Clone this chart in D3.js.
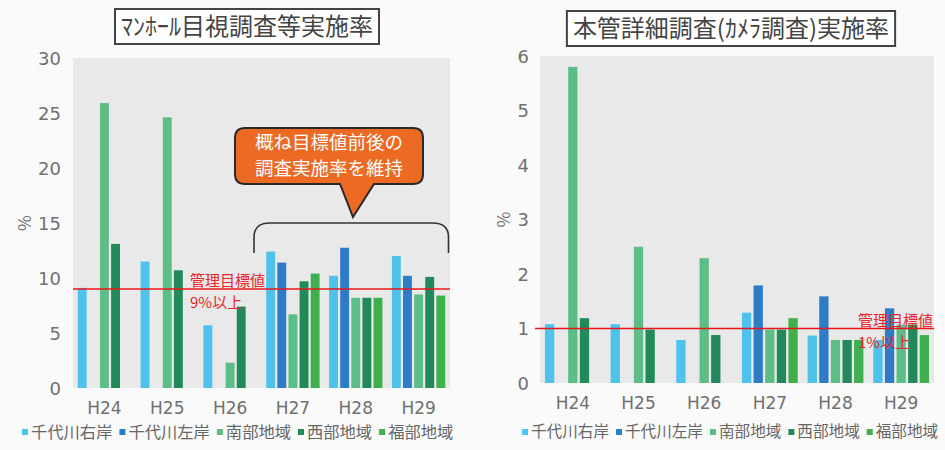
<!DOCTYPE html>
<html><head><meta charset="utf-8">
<script src="https://cdn.jsdelivr.net/npm/d3@7"></script>
<style>
html,body{margin:0;padding:0;background:#fafafa;}
svg{display:block;font-family:"Noto Sans CJK JP","Noto Sans",sans-serif;}
</style></head>
<body><svg id="c" width="945" height="450"></svg>
<script>
const years = ["H24","H25","H26","H27","H28","H29"];
const seriesNames = ["千代川右岸","千代川左岸","南部地域","西部地域","福部地域"];
const seriesColors = ["#4fc2ec","#2f7cc6","#5dbd86","#21895a","#3fb04d"];
// マンホール目視調査等実施率 (%)
const leftUgan   = [9.1, 11.5, 5.7, 12.4, 10.2, 12.0];
const leftSagan  = [0, 0, 0, 11.4, 12.75, 10.2];
const leftNanbu  = [25.9, 24.6, 2.3, 6.7, 8.2, 8.5];
const leftSeibu  = [13.1, 10.7, 7.4, 9.7, 8.2, 10.1];
const leftFukube = [0, 0, 0, 10.4, 8.2, 8.4];
// 本管詳細調査(カメラ調査)実施率 (%)
const rightUgan   = [1.08, 1.08, 0.79, 1.29, 0.87, 0.79];
const rightSagan  = [0, 0, 0, 1.79, 1.59, 1.37];
const rightNanbu  = [5.8, 2.5, 2.29, 0.98, 0.79, 1.07];
const rightSeibu  = [1.19, 0.98, 0.88, 0.98, 0.79, 1.07];
const rightFukube = [0, 0, 0, 1.19, 0.79, 0.88];
const leftTicks = [0,5,10,15,20,25,30];
const rightTicks = [0,1,2,3,4,5,6];
const leftTarget = 9, rightTarget = 1;
const leftTitle = "ﾏﾝﾎｰﾙ目視調査等実施率";
const rightTitle = "本管詳細調査(ｶﾒﾗ調査)実施率";
const leftTargetLabel = ["管理目標値","9%以上"];
const rightTargetLabel = ["管理目標値","1%以上"];
const calloutLines = ["概ね目標値前後の","調査実施率を維持"];

const svg = d3.select("#c");

function panel(cfg){
  const g = svg.append("g");
  const x0 = d3.scaleBand().domain(years).range([cfg.x0, cfg.x1]).paddingInner(0.08).paddingOuter(0.04);
  const x1 = d3.scaleBand().domain(seriesNames).range([0, x0.bandwidth()]).padding(0.2);
  const y = d3.scaleLinear().domain([0, cfg.max]).range([cfg.yb, cfg.yt]);
  // background
  g.append("rect").attr("x", cfg.x0).attr("y", cfg.yt).attr("width", cfg.x1-cfg.x0).attr("height", cfg.yb-cfg.yt).attr("fill","#e9e9e9");
  // bars
  years.forEach((yr,i)=>{
    cfg.series.forEach((arr,s)=>{
      const v = arr[i];
      if(!v) return;
      g.append("rect").attr("x", x0(yr)+x1(seriesNames[s])).attr("y", y(v))
        .attr("width", x1.bandwidth()).attr("height", y(0)-y(v)).attr("fill", seriesColors[s]);
    });
  });
  // y axis labels
  const ya = d3.axisLeft(y).tickValues(cfg.ticks).tickFormat(d3.format("d")).tickSize(0).tickPadding(0);
  const yg = g.append("g").attr("transform", `translate(${cfg.labelX},0)`).call(ya);
  yg.select(".domain").remove();
  yg.selectAll("text").attr("font-size",18).attr("fill","#707070").attr("font-family","'DejaVu Sans',sans-serif").attr("dy","0.35em");
  // % unit
  g.append("text").attr("transform", `translate(${cfg.pctX},${y(cfg.ticks[3])}) rotate(90)`)
    .attr("text-anchor","middle").attr("dy","0.35em").attr("font-size",17).attr("fill","#707070").text("%");
  // x axis labels
  const xa = d3.axisBottom(x0).tickSize(0).tickPadding(0);
  const xg = g.append("g").attr("transform", `translate(0,${cfg.yb+26})`).call(xa);
  xg.select(".domain").remove();
  xg.selectAll("text").attr("font-size",17).attr("fill","#707070").attr("font-family","'DejaVu Sans',sans-serif").attr("dy","0");
  // target line
  g.append("line").attr("x1", cfg.lineX0).attr("x2", cfg.x1).attr("y1", y(cfg.target)).attr("y2", y(cfg.target))
    .attr("stroke","#e8161b").attr("stroke-width",1.5);
  cfg.targetLabel.forEach((t,k)=>{
    g.append("text").attr("x", cfg.tlX).attr("y", y(cfg.target) + (k ? 19 : -3))
      .attr("font-size",15).attr("fill","#e8262b").text(t);
  });
  // title
  const tt = g.append("text").attr("x", cfg.titleX).attr("y", cfg.titleY).attr("text-anchor","middle")
    .attr("dy","0.36em").attr("font-size",24).attr("fill","#444").text(cfg.title);
  const bb = tt.node().getBBox();
  g.insert("rect", () => tt.node()).attr("x", bb.x-6).attr("y", cfg.titleY-17).attr("width", bb.width+12).attr("height", 35)
    .attr("fill","#fff").attr("stroke","#444").attr("stroke-width",2);
  // legend
  let lx = cfg.legX;
  const ly = 432;
  seriesNames.forEach((n,s)=>{
    g.append("rect").attr("x", lx).attr("y", ly-3).attr("width",6).attr("height",6).attr("fill", seriesColors[s]);
    const t = g.append("text").attr("x", lx+9).attr("y", ly).attr("dy","0.35em").attr("font-size",cfg.legFont).attr("fill","#666").text(n);
    lx += 9 + t.node().getComputedTextLength() + 7;
  });
  return {x0,y};
}

const L = panel({x0:73,x1:450,yt:58,yb:388,max:30,ticks:leftTicks,labelX:61,pctX:24,lineX0:73,
  series:[leftUgan,leftSagan,leftNanbu,leftSeibu,leftFukube],target:leftTarget,targetLabel:leftTargetLabel,tlX:190,
  title:leftTitle,titleX:247,titleY:26,legX:22,legFont:16.3});
const R = panel({x0:540,x1:934,yt:56,yb:383,max:6,ticks:rightTicks,labelX:529,pctX:503,lineX0:535,
  series:[rightUgan,rightSagan,rightNanbu,rightSeibu,rightFukube],target:rightTarget,targetLabel:rightTargetLabel,tlX:858,
  title:rightTitle,titleX:731,titleY:28,legX:522,legFont:15.6});

// bracket over H27-H29 (left)
const bx0 = L.x0("H27")-10, bx1 = L.x0("H29")+L.x0.bandwidth()+1, by = 223, bEnd = 253;
svg.append("path").attr("d", `M${bx0},${bEnd} L${bx0},${by+14} Q${bx0},${by} ${bx0+16},${by} L${bx1-16},${by} Q${bx1},${by} ${bx1},${by+14} L${bx1},${bEnd}`)
  .attr("fill","none").attr("stroke","#333").attr("stroke-width",1.6);

// callout
const cx0=235, cx1=423, cy0=128, cy1=184, r=10, px0=340, px1=374, tipX=353, tipY=217;
svg.append("path").attr("d",
  `M${cx0+r},${cy0} L${cx1-r},${cy0} Q${cx1},${cy0} ${cx1},${cy0+r} L${cx1},${cy1-r} Q${cx1},${cy1} ${cx1-r},${cy1} L${px1},${cy1} L${tipX},${tipY} L${px0},${cy1} L${cx0+r},${cy1} Q${cx0},${cy1} ${cx0},${cy1-r} L${cx0},${cy0+r} Q${cx0},${cy0} ${cx0+r},${cy0} Z`)
  .attr("fill","#ec6a24").attr("stroke","#2a2a2a").attr("stroke-width",2);
calloutLines.forEach((t,k)=>{
  svg.append("text").attr("x",(cx0+cx1)/2).attr("y", 143 + k*26).attr("dy","0.35em").attr("text-anchor","middle")
    .attr("font-size",18.5).attr("fill","#fff").text(t);
});
</script></body></html>
